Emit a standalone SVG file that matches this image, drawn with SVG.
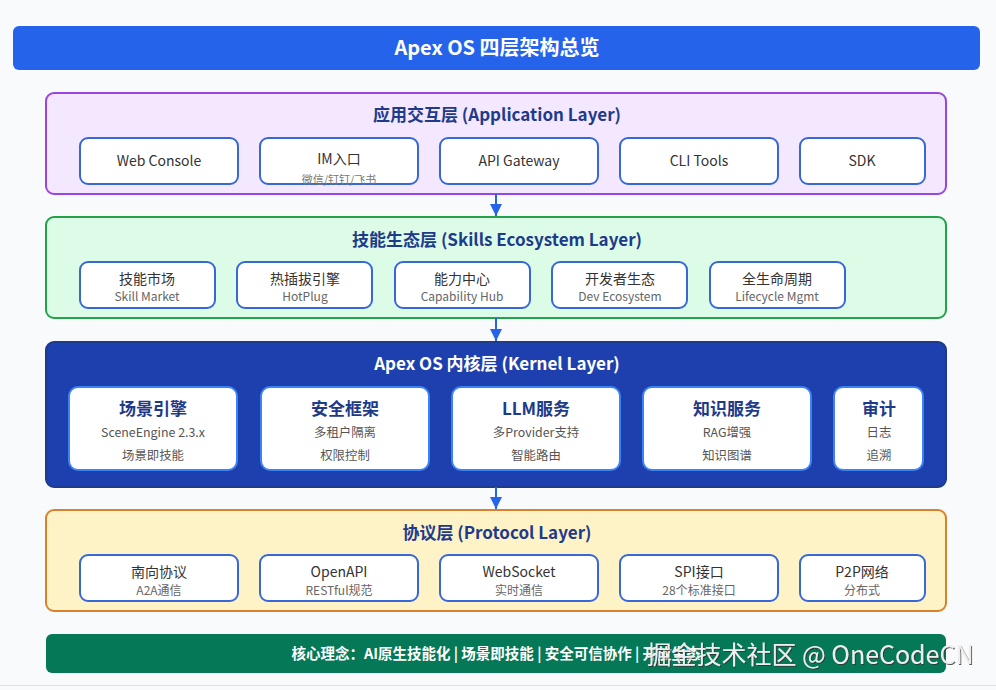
<svg xmlns="http://www.w3.org/2000/svg" width="996" height="690" viewBox="0 0 996 690">
<defs>
<style>
text{font-family:"Noto Sans CJK SC","Noto Sans",sans-serif;text-anchor:middle}
.ttl{font-size:20px;font-weight:700;fill:#fff}
.lt{font-size:17px;font-weight:700;fill:#1e3a8a}
.box{fill:#fff;stroke:#3868d8;stroke-width:2}
.kbox{fill:#fff;stroke:#3b82f6;stroke-width:2}
.m{font-size:14px;fill:#333}
.s{font-size:12px;fill:#666}
.xs{font-size:11px;fill:#777}
.kt{font-size:17px;font-weight:700;fill:#1e3a8a}
.ks{font-size:12.4px;fill:#555}
.conn{stroke:#2563eb;stroke-width:2;fill:none}
</style>
<marker id="ah" viewBox="0 0 12 12" refX="12" refY="6" markerWidth="12" markerHeight="12" markerUnits="userSpaceOnUse" orient="auto">
<path d="M0,0 L12,6 L0,12 Z" fill="#2563eb"/>
</marker>
<filter id="sh" x="-5%" y="-20%" width="110%" height="140%"><feDropShadow dx="1" dy="1" stdDeviation="0.6" flood-color="#333" flood-opacity="0.8"/></filter>
</defs>
<rect width="996" height="690" fill="#f9fafb"/>
<line x1="0" y1="685.5" x2="996" y2="685.5" stroke="#e2e4e8" stroke-width="1"/>

<g id="title">
<rect x="13" y="26" width="967" height="44" rx="6" fill="#2563eb"/>
<text class="ttl" x="497" y="55">Apex OS 四层架构总览</text>
</g>

<g id="app-layer">
<rect x="46" y="93" width="900" height="101" rx="8" fill="#f3e8ff" stroke="#9b45e0" stroke-width="2"/>
<text class="lt" x="497" y="121">应用交互层 (Application Layer)</text>
<g id="app-web"><rect class="box" x="80" y="138" width="158" height="46" rx="8"/><text class="m" x="159" y="166">Web Console</text></g>
<g id="app-im"><rect class="box" x="260" y="138" width="158" height="46" rx="8"/><text class="m" x="339" y="164">IM入口</text><text class="xs" x="339" y="184">微信/钉钉/飞书</text></g>
<g id="app-api"><rect class="box" x="440" y="138" width="158" height="46" rx="8"/><text class="m" x="519" y="166">API Gateway</text></g>
<g id="app-cli"><rect class="box" x="620" y="138" width="158" height="46" rx="8"/><text class="m" x="699" y="166">CLI Tools</text></g>
<g id="app-sdk"><rect class="box" x="800" y="138" width="125" height="46" rx="8"/><text class="m" x="862" y="166">SDK</text></g>
</g>

<g id="skills-layer">
<rect x="46" y="217" width="900" height="101" rx="8" fill="#dcfce7" stroke="#22a34a" stroke-width="2"/>
<text class="lt" x="497" y="246">技能生态层 (Skills Ecosystem Layer)</text>
<g id="sk-market"><rect class="box" x="80" y="262" width="135" height="46" rx="8"/><text class="m" x="147" y="284">技能市场</text><text class="s" x="147" y="301">Skill Market</text></g>
<g id="sk-hotplug"><rect class="box" x="237" y="262" width="135" height="46" rx="8"/><text class="m" x="305" y="284">热插拔引擎</text><text class="s" x="305" y="301">HotPlug</text></g>
<g id="sk-cap"><rect class="box" x="395" y="262" width="135" height="46" rx="8"/><text class="m" x="462" y="284">能力中心</text><text class="s" x="462" y="301">Capability Hub</text></g>
<g id="sk-dev"><rect class="box" x="552" y="262" width="135" height="46" rx="8"/><text class="m" x="620" y="284">开发者生态</text><text class="s" x="620" y="301">Dev Ecosystem</text></g>
<g id="sk-life"><rect class="box" x="710" y="262" width="135" height="46" rx="8"/><text class="m" x="777" y="284">全生命周期</text><text class="s" x="777" y="301">Lifecycle Mgmt</text></g>
</g>

<g id="kernel-layer">
<rect x="46" y="342" width="900" height="145" rx="8" fill="#1e40af" stroke="#1e3a8a" stroke-width="2"/>
<text class="lt" x="497" y="370" style="fill:#fff">Apex OS 内核层 (Kernel Layer)</text>
<g id="k-scene"><rect class="kbox" x="69" y="387" width="168" height="83" rx="9"/><text class="kt" x="153" y="415">场景引擎</text><text class="ks" x="153" y="437">SceneEngine 2.3.x</text><text class="ks" x="153" y="460">场景即技能</text></g>
<g id="k-sec"><rect class="kbox" x="261" y="387" width="168" height="83" rx="9"/><text class="kt" x="345" y="415">安全框架</text><text class="ks" x="345" y="437">多租户隔离</text><text class="ks" x="345" y="460">权限控制</text></g>
<g id="k-llm"><rect class="kbox" x="452" y="387" width="168" height="83" rx="9"/><text class="kt" x="536" y="415">LLM服务</text><text class="ks" x="536" y="437">多Provider支持</text><text class="ks" x="536" y="460">智能路由</text></g>
<g id="k-know"><rect class="kbox" x="643" y="387" width="168" height="83" rx="9"/><text class="kt" x="727" y="415">知识服务</text><text class="ks" x="727" y="437">RAG增强</text><text class="ks" x="727" y="460">知识图谱</text></g>
<g id="k-audit"><rect class="kbox" x="834" y="387" width="89" height="83" rx="9"/><text class="kt" x="879" y="415">审计</text><text class="ks" x="879" y="437">日志</text><text class="ks" x="879" y="460">追溯</text></g>
</g>

<g id="protocol-layer">
<rect x="46" y="510" width="900" height="101" rx="8" fill="#fef3c7" stroke="#d9822b" stroke-width="2"/>
<text class="lt" x="497" y="539">协议层 (Protocol Layer)</text>
<g id="p-south"><rect class="box" x="80" y="555" width="158" height="46" rx="8"/><text class="m" x="159" y="577">南向协议</text><text class="s" x="159" y="595">A2A通信</text></g>
<g id="p-openapi"><rect class="box" x="260" y="555" width="158" height="46" rx="8"/><text class="m" x="339" y="577">OpenAPI</text><text class="s" x="339" y="595">RESTful规范</text></g>
<g id="p-ws"><rect class="box" x="440" y="555" width="158" height="46" rx="8"/><text class="m" x="519" y="577">WebSocket</text><text class="s" x="519" y="595">实时通信</text></g>
<g id="p-spi"><rect class="box" x="620" y="555" width="158" height="46" rx="8"/><text class="m" x="699" y="577">SPI接口</text><text class="s" x="699" y="595">28个标准接口</text></g>
<g id="p-p2p"><rect class="box" x="800" y="555" width="125" height="46" rx="8"/><text class="m" x="862" y="577">P2P网络</text><text class="s" x="862" y="595">分布式</text></g>
</g>

<g id="connectors">
<line class="conn" x1="496" y1="194" x2="496" y2="216" marker-end="url(#ah)"/>
<line class="conn" x1="496" y1="318" x2="496" y2="341" marker-end="url(#ah)"/>
<line class="conn" x1="496" y1="487" x2="496" y2="509" marker-end="url(#ah)"/>
</g>

<g id="footer">
<rect x="46" y="634" width="900" height="39" rx="6" fill="#047857"/>
<text x="496" y="659" style="font-size:14.5px;font-weight:700;fill:#fff">核心理念：AI原生技能化 | 场景即技能 | 安全可信协作 | 开放生态</text>
</g>

<text x="810" y="664" filter="url(#sh)" style="font-size:25px;fill:#eeeeee;text-anchor:middle">掘金技术社区 @ OneCodeCN</text>
</svg>
